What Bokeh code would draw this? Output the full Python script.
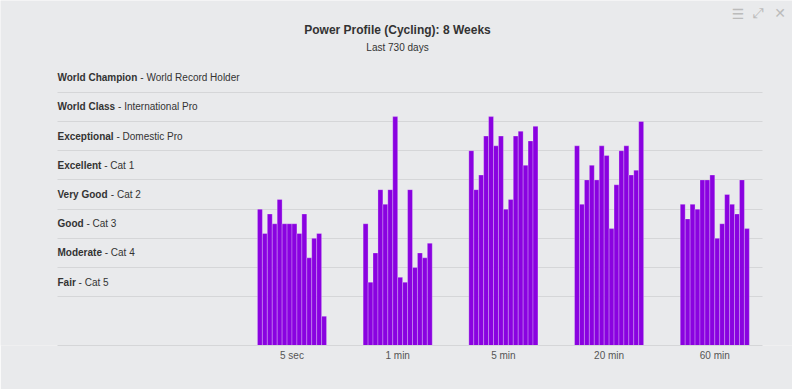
from bokeh.plotting import figure
from bokeh.models import ColumnDataSource, Range1d, FixedTicker, Label
from bokeh.core.properties import value
from bokeh.embed import file_html
from bokeh.resources import INLINE

# ---------------- data ----------------
TITLE = "Power Profile (Cycling): 8 Weeks"
SUBTITLE = "Last 730 days"
DURATIONS = ["5 sec", "1 min", "5 min", "20 min", "60 min"]

LEVEL_BOLD = ["Fair", "Moderate", "Good", "Very Good", "Excellent",
              "Exceptional", "World Class", "World Champion"]
LEVEL_DESC = ["Cat 5", "Cat 4", "Cat 3", "Cat 2", "Cat 1",
              "Domestic Pro", "International Pro", "World Record Holder"]
LEVEL_FLOORS = [10, 16, 22, 28, 34, 40, 46, 52]
LEVEL_TOP = 58

SEC5 = [28, 23, 27, 25, 30, 25, 25, 25, 23, 27, 18, 22, 23, 6]
MIN1 = [25, 13, 19, 32, 29, 32, 47, 14, 13, 32, 16, 19, 18, 21]
MIN5 = [40, 32, 35, 43, 47, 41, 43, 28, 30, 43, 44, 37, 42, 45]
MIN20 = [41, 29, 34, 37, 34, 41, 39, 24, 33, 40, 41, 35, 36, 46]
MIN60 = [29, 26, 29, 28, 34, 34, 35, 22, 25, 31, 29, 27, 34, 24]
SERIES_BY_DURATION = [SEC5, MIN1, MIN5, MIN20, MIN60]

# ---------------- layout ----------------
W, H = 792, 389
FRAME_L, FRAME_R = 0, 792
FRAME_T, FRAME_B = 0, 345
PLOT_L, PLOT_R = 57, 762            # visible plotting band (grid extent)
GRID_X0, GRID_X1 = -2.2185, 4.4513  # data x at PLOT_L / PLOT_R
UNITS_PER_PX = (GRID_X1 - GRID_X0) / (PLOT_R - PLOT_L)
X_START = GRID_X0 - (PLOT_L - FRAME_L) * UNITS_PER_PX
X_END = GRID_X1 + (FRAME_R - PLOT_R) * UNITS_PER_PX
PX_PER_UNIT = 4.87
Y_TOP = (FRAME_B - FRAME_T) / PX_PER_UNIT
BAR_W = 0.0467

BG = "#E9EAEC"
GRID = "#D5D6D8"
BAR = "#8A02E0"
TXT = "#333333"
FONT = "Liberation Sans"

# Helvetica-Bold advance widths (per 1000 em) for offset of the normal text part
BOLD_W = {" ": 278, "W": 944, "o": 611, "r": 389, "l": 278, "d": 611, "C": 722,
          "h": 611, "a": 556, "m": 889, "p": 611, "i": 278, "n": 611, "s": 556,
          "E": 667, "x": 556, "c": 556, "e": 556, "t": 333, "V": 667, "y": 556,
          "G": 778, "M": 833, "F": 611}
SPACE_W = 278
LABEL_SIZE = 10


def fig_y_to_val(fy):
    return (FRAME_B - fy) / PX_PER_UNIT


def fig_x_to_val(fx):
    return X_START + (fx - FRAME_L) * UNITS_PER_PX


p = figure(width=W, height=H, output_backend="svg", toolbar_location=None,
           x_range=Range1d(X_START, X_END), y_range=Range1d(0, Y_TOP),
           min_border_left=FRAME_L, min_border_right=W - FRAME_R,
           min_border_top=FRAME_T, min_border_bottom=H - FRAME_B,
           background_fill_color=BG, border_fill_color=BG,
           outline_line_color=None, title=None)

# grid (limited to the plotting band)
p.xgrid.visible = False
p.ygrid.ticker = FixedTicker(ticks=LEVEL_FLOORS)
p.ygrid.grid_line_color = GRID
p.ygrid.grid_line_width = 1
try:
    p.ygrid.cross_bounds = (GRID_X0, GRID_X1)
except Exception:
    p.ygrid.visible = False
    p.segment(x0=GRID_X0, x1=GRID_X1, y0=LEVEL_FLOORS, y1=LEVEL_FLOORS,
              line_color=GRID, line_width=1, level="underlay")

# bars
xs, tops = [], []
n = len(SEC5)
for i, vals in enumerate(SERIES_BY_DURATION):
    for j, v in enumerate(vals):
        xs.append(i + (j - (n - 1) / 2) * BAR_W)
        tops.append(v)
src = ColumnDataSource(dict(x=xs, top=tops))
p.vbar(x="x", top="top", bottom=0, width=BAR_W, source=src,
       fill_color=BAR, line_color="white", line_alpha=0.25, line_width=1)

# axes
p.yaxis.visible = False
p.xaxis.ticker = FixedTicker(ticks=list(range(len(DURATIONS))))
p.xaxis.major_label_overrides = {i: d for i, d in enumerate(DURATIONS)}
p.xaxis.bounds = (GRID_X0, GRID_X1)
p.xaxis.axis_line_color = GRID
p.xaxis.major_tick_line_color = None
p.xaxis.minor_tick_line_color = None
p.xaxis.major_tick_out = 0
p.xaxis.major_label_standoff = 4
p.xaxis.major_label_text_font = FONT
p.xaxis.major_label_text_font_size = "10px"
p.xaxis.major_label_text_color = "#555555"

# level labels (bold name + normal description)
bounds = LEVEL_FLOORS + [LEVEL_TOP]
mids = [(bounds[k] + bounds[k + 1]) / 2 for k in range(len(LEVEL_FLOORS))]
offsets = [(sum(BOLD_W.get(c, 556) for c in b) + SPACE_W) * LABEL_SIZE / 1000
           for b in LEVEL_BOLD]
lab = ColumnDataSource(dict(x=[GRID_X0] * len(mids), y=mids, bold=LEVEL_BOLD,
                            desc=["- " + d for d in LEVEL_DESC], off=offsets))
p.text(x="x", y="y", text="bold", source=lab, text_font=value(FONT),
       text_font_style="bold", text_font_size=f"{LABEL_SIZE}px", text_color=TXT,
       text_align="left", text_baseline="middle")
p.text(x="x", y="y", text="desc", source=lab, x_offset="off", text_font=value(FONT),
       text_font_size=f"{LABEL_SIZE}px", text_color=TXT,
       text_align="left", text_baseline="middle")

# title / subtitle
cx = fig_x_to_val(W / 2 + 1)
p.text(x=[cx], y=[fig_y_to_val(29)], text=[TITLE], text_font=value(FONT),
       text_font_style="bold", text_font_size="12px", text_color=TXT,
       text_align="center", text_baseline="middle")
p.text(x=[cx], y=[fig_y_to_val(47.3)], text=[SUBTITLE], text_font=value(FONT),
       text_font_size="10px", text_color=TXT,
       text_align="center", text_baseline="middle")

# menu icons (top right)
for ch, sx, sy in [("\u2630", 737.5, 13), ("\u2922", 758, 12.5), ("\u2715", 779.5, 12.5)]:
    p.add_layout(Label(x=sx - FRAME_L, y=FRAME_B - sy, x_units="screen", y_units="screen",
                       text=ch, text_font="DejaVu Sans", text_font_size="14px",
                       text_color="#BBBBBB", text_align="center",
                       text_baseline="middle"))

open("out.html", "w").write(file_html(p, INLINE))
